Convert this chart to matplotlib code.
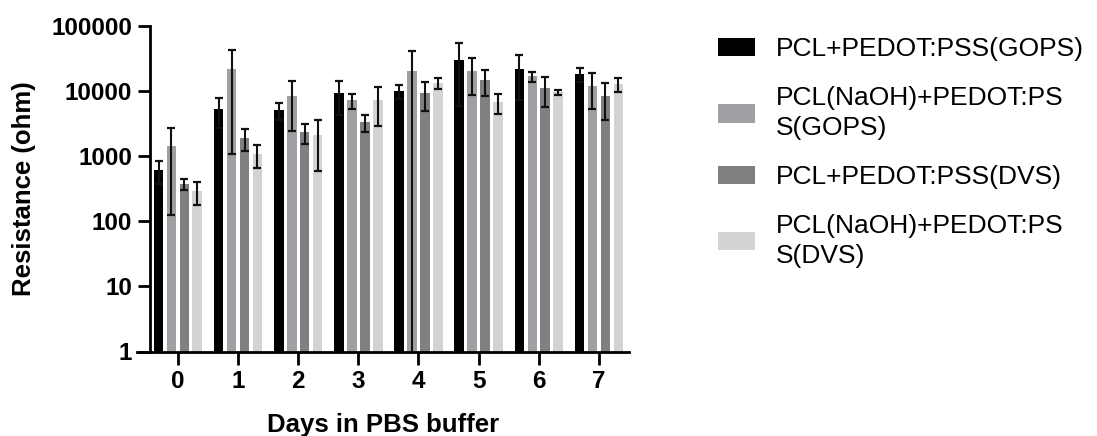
import matplotlib
matplotlib.use("Agg")
import matplotlib.pyplot as plt
import numpy as np

days = ["0", "1", "2", "3", "4", "5", "6", "7"]
series_names = ["PCL+PEDOT:PSS(GOPS)", "PCL(NaOH)+PEDOT:PS\nS(GOPS)",
                "PCL+PEDOT:PSS(DVS)", "PCL(NaOH)+PEDOT:PS\nS(DVS)"]
gops = [610, 5300, 5100, 9300, 10000, 30000, 21800, 18300]
gops_err = [240, 2600, 1500, 5000, 2500, 24000, 14500, 4500]
naoh_gops = [1425, 21800, 8400, 7250, 20300, 20300, 16900, 12000]
naoh_gops_err = [1300, 20700, 6000, 1900, 21000, 11500, 2900, 6700]
dvs = [370, 1900, 2340, 3330, 9300, 14700, 11100, 8360]
dvs_err = [70, 700, 800, 1000, 4400, 6200, 5400, 4800]
naoh_dvs = [288, 1070, 2100, 7250, 13200, 6780, 9600, 12800]
naoh_dvs_err = [110, 400, 1500, 4300, 2600, 2400, 800, 3000]
yticks = [1, 10, 100, 1000, 10000, 100000]
ytick_labels = ["1", "10", "100", "1000", "10000", "100000"]

colors = ["#000000", "#A0A0A4", "#808080", "#D3D3D3"]

plt.rcParams['font.family'] = ['Liberation Sans', 'DejaVu Sans']

fig = plt.figure(figsize=(10.97, 4.36), dpi=100)
ax = fig.add_axes([137/1097, 1-351.5/436, (629-137)/1097, (351.5-26)/436])

x = np.arange(len(days))
pitch = 0.215
width = 0.16
vals = [gops, naoh_gops, dvs, naoh_dvs]
errs = [gops_err, naoh_gops_err, dvs_err, naoh_dvs_err]
handles = []
for i, (v, e) in enumerate(zip(vals, errs)):
    pos = x + (i - 1.5) * pitch
    b = ax.bar(pos, v, width=width, color=colors[i], bottom=1, zorder=2)
    handles.append(b)
    ax.errorbar(pos, v, yerr=e, fmt='none', ecolor='#111111', elinewidth=1.5,
                capsize=2.8, capthick=1.6, zorder=3)

ax.set_yscale('log')
ax.set_ylim(1, 100000)
ax.set_xlim(-0.68, 7.5)
ax.set_yticks(yticks, labels=ytick_labels)
ax.yaxis.set_minor_locator(matplotlib.ticker.NullLocator())
ax.set_xticks(x, labels=days)

for s in ['top', 'right']:
    ax.spines[s].set_visible(False)
ax.spines['left'].set_position(('data', -0.46))
for s in ['left', 'bottom']:
    ax.spines[s].set_linewidth(2.0)
ax.tick_params(axis='both', width=2.0, length=9, labelsize=17.5, pad=4)
for lab in ax.get_xticklabels() + ax.get_yticklabels():
    lab.set_fontweight('bold')

ax.set_ylabel("Resistance (ohm)", fontsize=18.5, fontweight='bold', labelpad=11)
ax.set_xlabel("Days in PBS buffer", fontsize=18.5, fontweight='bold', labelpad=15)

leg = fig.legend(handles, series_names, loc='upper left',
                 bbox_to_anchor=(705/1097, 1-24/436), frameon=False,
                 fontsize=19, handlelength=1.4, handleheight=0.7,
                 handletextpad=0.8, labelspacing=0.95, borderpad=0)
for t in leg.get_texts():
    t.set_linespacing(1.3)

fig.savefig("out.png", dpi=100)
